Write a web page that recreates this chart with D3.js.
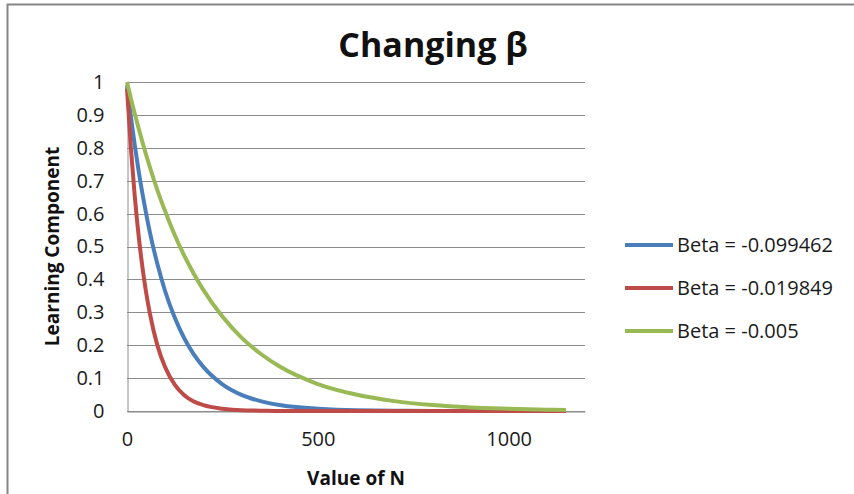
<!DOCTYPE html>
<html>
<head>
<meta charset="utf-8">
<script src="https://cdn.jsdelivr.net/npm/d3@7"></script>
<style>
  html, body { margin: 0; padding: 0; background: #fff; }
  svg { display: block; font-family: 'Open Sans', 'Noto Sans', sans-serif; }
</style>
</head>
<body>
<div id="chart"></div>
<script>
// Values
const nValues = [0, 10, 20, 30, 40, 50, 60, 80, 100, 125, 150, 175, 200, 250, 300, 350, 400, 500, 600, 700, 800, 900, 1000, 1100, 1150];
const blueValues = [0.990, 0.896, 0.811, 0.733, 0.664, 0.601, 0.543, 0.445, 0.364, 0.284, 0.221, 0.172, 0.134, 0.081, 0.049, 0.030, 0.018, 0.007, 0.002, 0.001, 0, 0, 0, 0, 0];
const redValues = [0.980, 0.802, 0.657, 0.538, 0.441, 0.361, 0.296, 0.198, 0.133, 0.080, 0.048, 0.029, 0.018, 0.007, 0.002, 0.001, 0, 0, 0, 0, 0, 0, 0, 0, 0];
const greenValues = [1.000, 0.951, 0.905, 0.861, 0.819, 0.779, 0.741, 0.670, 0.607, 0.535, 0.472, 0.417, 0.368, 0.287, 0.223, 0.174, 0.135, 0.082, 0.050, 0.030, 0.018, 0.011, 0.007, 0.004, 0.003];
const seriesNames = ['Beta = -0.099462', 'Beta = -0.019849', 'Beta = -0.005'];
const seriesColors = ['#4a7ebb', '#be4b48', '#98b954'];
const xTicks = [0, 500, 1000];
const yTicks = [0, 0.1, 0.2, 0.3, 0.4, 0.5, 0.6, 0.7, 0.8, 0.9, 1];

const W = 854, H = 494;
const plot = { left: 127, right: 585, top: 82, bottom: 411 };

const svg = d3.select('#chart').append('svg')
  .attr('width', W).attr('height', H)
  .attr('viewBox', `0 0 ${W} ${H}`);

// Outer chart border (cropped at right/bottom in the reference)
svg.append('rect')
  .attr('x', 7.5).attr('y', 4.5)
  .attr('width', W + 10).attr('height', H + 10)
  .attr('fill', '#fff')
  .attr('stroke', '#868686')
  .attr('stroke-width', 2);

const x = d3.scaleLinear().domain([0, 1200]).range([plot.left, plot.right]);
const y = d3.scaleLinear().domain([0, 1]).range([plot.bottom, plot.top]);

// Horizontal gridlines
svg.append('g')
  .selectAll('line')
  .data(yTicks).enter()
  .append('line')
  .attr('x1', plot.left).attr('x2', plot.right)
  .attr('y1', d => Math.round(y(d)) + 0.5)
  .attr('y2', d => Math.round(y(d)) + 0.5)
  .attr('stroke', '#8c8c8c')
  .attr('stroke-width', 1);

// Y axis
const yAxis = svg.append('g')
  .attr('transform', `translate(${plot.left + 0.5},0)`)
  .call(d3.axisLeft(y).tickValues(yTicks).tickSize(0).tickPadding(23).tickFormat(d3.format('~g')));
yAxis.select('.domain').attr('stroke', '#8c8c8c');
yAxis.selectAll('text')
  .attr('font-size', '20px')
  .attr('fill', '#1a1a1a')
  .attr('font-family', "'Open Sans', sans-serif");

// X axis
const xAxis = svg.append('g')
  .attr('transform', `translate(0,${plot.bottom + 0.5})`)
  .call(d3.axisBottom(x).tickValues(xTicks).tickSize(0).tickPadding(20).tickFormat(d3.format('d')));
xAxis.select('.domain').attr('stroke', '#8c8c8c');
xAxis.selectAll('text')
  .attr('font-size', '20px')
  .attr('fill', '#1a1a1a')
  .attr('font-family', "'Open Sans', sans-serif");

// Series lines
const series = [blueValues, redValues, greenValues];
const line = d3.line()
  .x((d, i) => x(nValues[i]))
  .y(d => y(d))
  .curve(d3.curveMonotoneX);

svg.append('g')
  .selectAll('path')
  .data(series).enter()
  .append('path')
  .attr('d', d => line(d))
  .attr('fill', 'none')
  .attr('stroke', (d, i) => seriesColors[i])
  .attr('stroke-width', 4)
  .attr('stroke-linejoin', 'round');

// Title
svg.append('text')
  .attr('x', 433).attr('y', 57)
  .attr('text-anchor', 'middle')
  .attr('font-size', '34px')
  .attr('font-weight', 'bold')
  .attr('fill', '#111')
  .text('Changing β');

// Axis titles
svg.append('text')
  .attr('x', 356).attr('y', 485)
  .attr('text-anchor', 'middle')
  .attr('font-size', '19px')
  .attr('font-weight', 'bold')
  .attr('fill', '#111')
  .text('Value of N');

svg.append('text')
  .attr('transform', `translate(59,${(plot.top + plot.bottom) / 2}) rotate(-90)`)
  .attr('text-anchor', 'middle')
  .attr('font-size', '19px')
  .attr('font-weight', 'bold')
  .attr('fill', '#111')
  .text('Learning Component');

// Legend
const legend = svg.append('g')
  .selectAll('g')
  .data(seriesNames).enter()
  .append('g')
  .attr('transform', (d, i) => `translate(625,${245 + i * 43})`);

legend.append('line')
  .attr('x1', 0).attr('x2', 48)
  .attr('y1', 0).attr('y2', 0)
  .attr('stroke', (d, i) => seriesColors[i])
  .attr('stroke-width', 4);

legend.append('text')
  .attr('x', 52).attr('y', 0)
  .attr('dy', '0.35em')
  .attr('font-size', '20px')
  .attr('fill', '#1a1a1a')
  .text(d => d);
</script>
</body>
</html>
